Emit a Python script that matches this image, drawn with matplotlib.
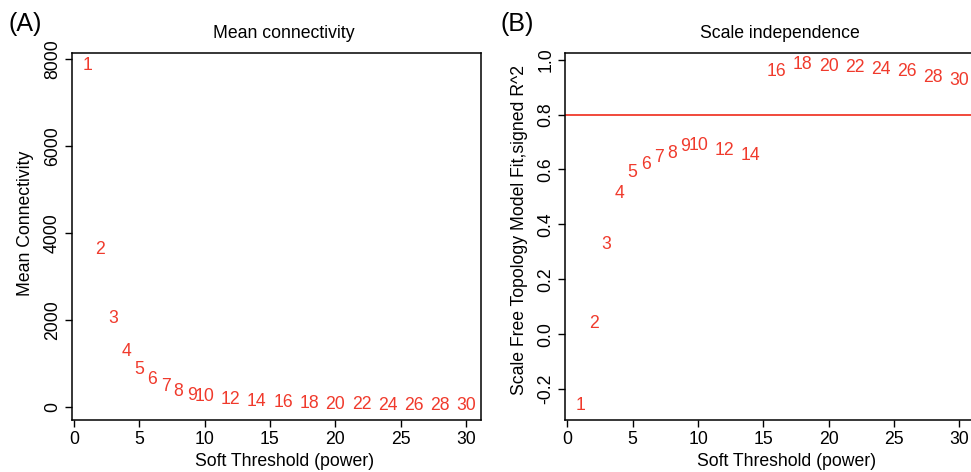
import matplotlib
matplotlib.use("Agg")
import matplotlib.pyplot as plt

plt.rcParams['font.family'] = ['Liberation Sans', 'DejaVu Sans']

# soft threshold powers
powers = [1, 2, 3, 4, 5, 6, 7, 8, 9, 10, 12, 14, 16, 18, 20, 22, 24, 26, 28, 30]
# mean connectivity per power
mean_k = [7853, 3632, 2046, 1278, 873, 644, 474, 375, 283, 244,
          184, 145, 115, 92, 76, 69, 53, 46, 46, 37]
# signed R^2 of scale free fit
sft_r2 = [-0.259, 0.037, 0.328, 0.514, 0.589, 0.617, 0.645, 0.660, 0.682, 0.688,
          0.670, 0.650, 0.958, 0.983, 0.977, 0.971, 0.964, 0.956, 0.936, 0.925]
r2_cut = 0.8

red = '#f03a2c'
fs = 12.7
W, H = 971, 472
fig = plt.figure(figsize=(W / 100, H / 100), dpi=100)

def px(x0, y0, x1, y1):
    return [x0 / W, 1 - y1 / H, (x1 - x0) / W, (y1 - y0) / H]

def setup(ax, yticks, ylabels):
    ax.set_xlim(-0.16, 31.16)
    ax.set_xticks([0, 5, 10, 15, 20, 25, 30])
    ax.set_yticks(yticks)
    ax.set_yticklabels(ylabels, rotation=90, va='center')
    ax.tick_params(direction='out', length=5, width=1, labelsize=fs,
                   color='black', pad=3)
    for s in ax.spines.values():
        s.set_linewidth(1.1)

# (A) mean connectivity
ax1 = fig.add_axes(px(72, 53, 481, 420))
for p, k in zip(powers, mean_k):
    ax1.text(p, k, str(p), color=red, fontsize=fs, ha='center', va='center')
ax1.set_ylim(-290, 8145)
setup(ax1, [0, 2000, 4000, 6000, 8000], ['0', '2000', '4000', '6000', '8000'])

# (B) scale independence
ax2 = fig.add_axes(px(565.3, 53, 974.6, 420))
for p, r in zip(powers, sft_r2):
    ax2.text(p, r, str(p), color=red, fontsize=fs, ha='center', va='center',
             clip_on=False)
ax2.axhline(r2_cut, color=red, lw=1.3)
ax2.set_ylim(-0.313, 1.0245)
setup(ax2, [-0.2, 0.0, 0.2, 0.4, 0.6, 0.8, 1.0],
      ['-0.2', '0.0', '0.2', '0.4', '0.6', '0.8', '1.0'])

# titles, labels
fig.text(284 / W, 1 - 34 / H, 'Mean connectivity', ha='center', va='center', fontsize=fs)
fig.text(780 / W, 1 - 34 / H, 'Scale independence', ha='center', va='center', fontsize=fs)
fig.text(285 / W, 1 - 461 / H, 'Soft Threshold (power)', ha='center', va='center', fontsize=fs)
fig.text(787 / W, 1 - 461 / H, 'Soft Threshold (power)', ha='center', va='center', fontsize=fs)
fig.text(26 / W, 1 - 223.5 / H, 'Mean Connectivity', ha='center', va='center',
         rotation=90, fontsize=fs)
fig.text(519 / W, 1 - 230 / H, 'Scale Free Topology Model Fit,signed R^2', ha='center',
         va='center', rotation=90, fontsize=fs)
fig.text(25 / W, 1 - 24 / H, '(A)', ha='center', va='center', fontsize=18)
fig.text(517 / W, 1 - 24 / H, '(B)', ha='center', va='center', fontsize=18)

fig.savefig('out.png', dpi=100)
